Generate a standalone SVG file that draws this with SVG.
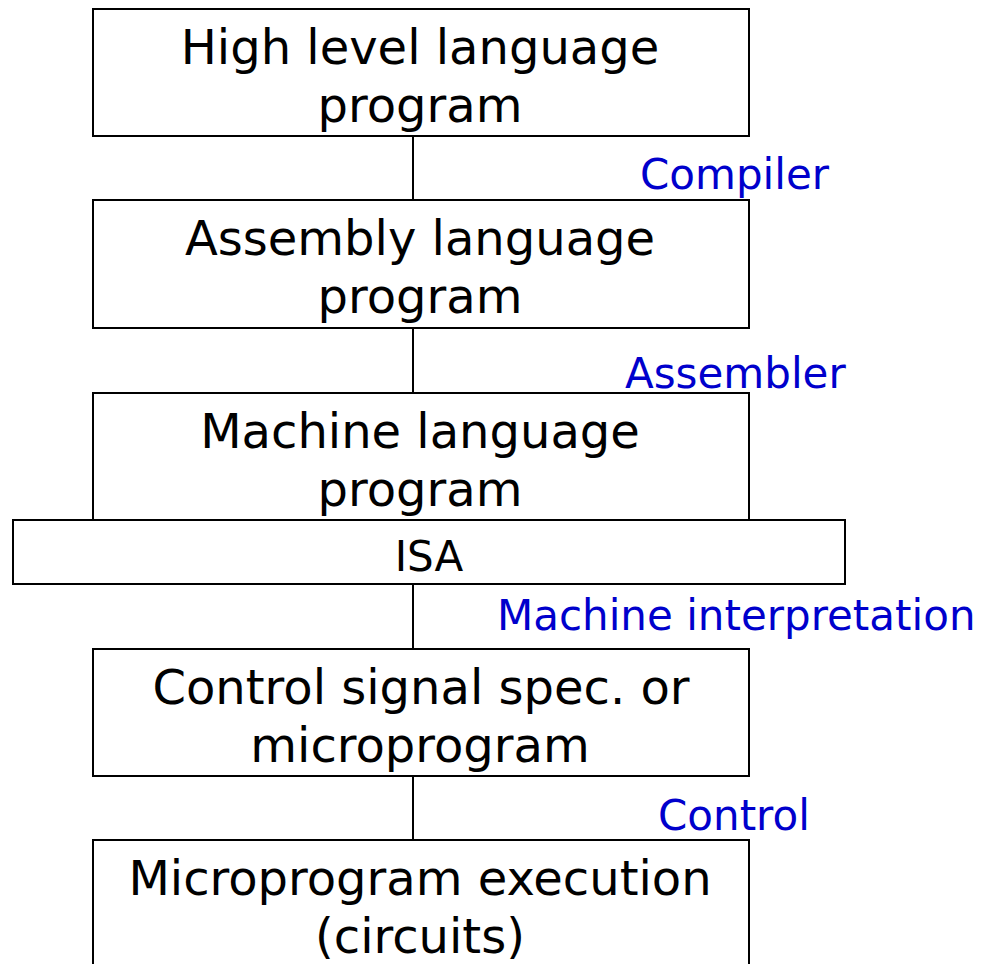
<svg xmlns="http://www.w3.org/2000/svg" width="981" height="964" viewBox="0 0 981 964">
<style>
.box{fill:#fff;stroke:#000;stroke-width:2}
.t{font-family:"DejaVu Sans",Verdana,sans-serif;font-size:48px;fill:#000;text-anchor:middle}
.isa{font-size:42px}
.lbl{font-family:"DejaVu Sans",Verdana,sans-serif;font-size:42px;fill:#0000cc}
.c{stroke:#000;stroke-width:2;fill:none}
</style>
<rect width="981" height="964" fill="#fff"/>
<g id="connectors">
<line class="c" x1="413" y1="136" x2="413" y2="200"/>
<line class="c" x1="413" y1="328" x2="413" y2="393"/>
<line class="c" x1="413" y1="584" x2="413" y2="649"/>
<line class="c" x1="413" y1="776" x2="413" y2="840"/>
</g>
<g id="n1"><rect class="box" x="93" y="9" width="656" height="127"/><text class="t" x="420" y="64">High level language</text><text class="t" x="420" y="122">program</text></g>
<g id="n2"><rect class="box" x="93" y="200" width="656" height="128"/><text class="t" x="420" y="255">Assembly language</text><text class="t" x="420" y="313">program</text></g>
<g id="n3"><rect class="box" x="93" y="393" width="656" height="160"/><text class="t" x="420" y="448">Machine language</text><text class="t" x="420" y="506">program</text></g>
<g id="isa"><rect class="box" x="13" y="520" width="832" height="64"/><text class="t isa" x="429" y="571">ISA</text></g>
<g id="n4"><rect class="box" x="93" y="649" width="656" height="127"/><text class="t" x="421" y="704">Control signal spec. or</text><text class="t" x="420" y="762">microprogram</text></g>
<g id="n5"><rect class="box" x="93" y="840" width="656" height="140"/><text class="t" x="420" y="895">Microprogram execution</text><text class="t" x="420" y="953">(circuits)</text></g>
<g id="labels">
<text class="lbl" x="640" y="189">Compiler</text>
<text class="lbl" x="625" y="388">Assembler</text>
<text class="lbl" x="497" y="630">Machine interpretation</text>
<text class="lbl" x="658" y="830">Control</text>
</g>
</svg>
